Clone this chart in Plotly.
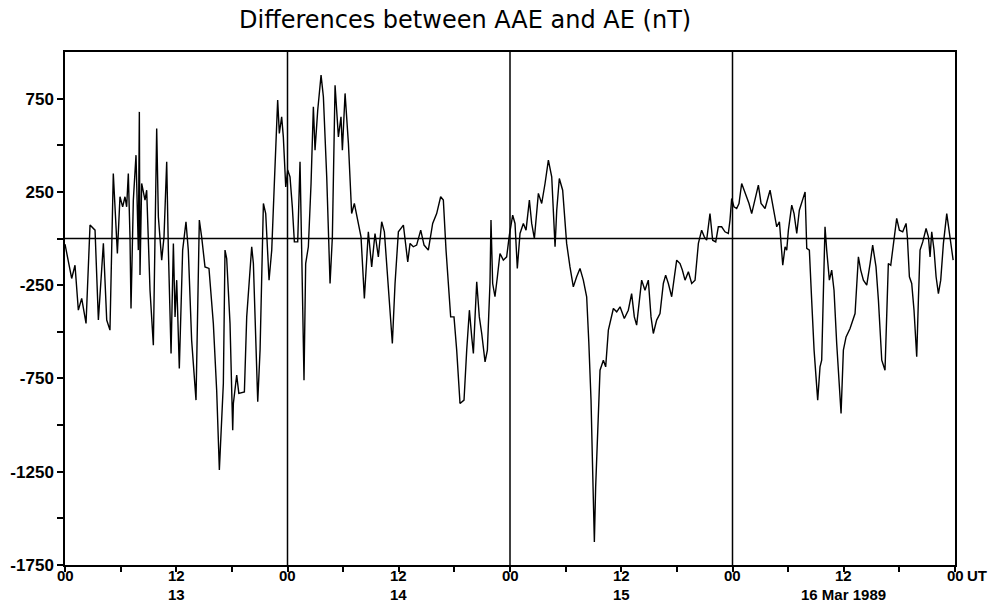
import plotly.graph_objects as go

# Time in hours from 00 UT, 13 Mar 1989
hours = [
    0.0, 0.36, 0.72, 1.08, 1.44, 1.80, 2.27, 2.70, 3.24, 3.60, 3.78, 4.14, 4.50, 4.85,
    5.21, 5.39, 5.65, 5.93, 6.22, 6.47, 6.65, 6.83, 7.01, 7.12, 7.37, 7.66, 7.91, 8.02,
    8.09, 8.27, 8.63, 8.81, 9.17, 9.53, 9.71, 9.89, 10.07, 10.43, 10.68, 10.97, 11.15,
    11.44, 11.69, 11.87, 12.05, 12.33, 12.69, 13.05, 13.30, 13.66, 14.13, 14.49, 14.74,
    15.10, 15.53, 16.00, 16.36, 16.65, 17.08, 17.26, 17.44, 17.80, 18.09, 18.16, 18.52,
    18.75, 19.35, 19.60, 20.14, 20.32, 20.79, 21.04, 21.40, 21.65, 22.01, 22.30, 22.58,
    22.94, 23.12, 23.37, 23.55, 23.81, 24.02, 24.27, 24.52, 24.74, 25.10, 25.35, 25.53,
    25.78, 25.96, 26.25, 26.54, 26.79, 26.97, 27.26, 27.62, 27.87, 28.23, 28.59, 28.84,
    29.13, 29.49, 29.77, 29.92, 30.21, 30.57, 30.92, 31.21, 31.57, 31.93, 32.29, 32.72,
    33.08, 33.44, 33.80, 34.16, 34.45, 34.88, 35.31, 35.60, 35.96, 36.50, 36.97, 37.22,
    37.57, 37.93, 38.37, 38.73, 39.19, 39.66, 40.09, 40.52, 40.81, 41.10, 41.35, 41.60,
    41.96, 42.25, 42.61, 43.04, 43.33, 43.62, 43.87, 44.05, 44.23, 44.41, 44.69, 44.95,
    45.31, 45.56, 45.84, 45.95, 46.13, 46.38, 46.64, 46.92, 47.28, 47.64, 47.93, 48.29,
    48.54, 48.79, 49.08, 49.44, 49.73, 50.09, 50.34, 50.63, 51.06, 51.42, 51.78, 52.14,
    52.50, 52.86, 53.04, 53.32, 53.68, 54.11, 54.47, 54.83, 55.19, 55.55, 55.91, 56.27,
    56.50, 56.74, 56.88, 57.10, 57.24, 57.46, 57.71, 58.07, 58.32, 58.61, 59.15, 59.51,
    59.87, 60.33, 60.76, 61.12, 61.41, 61.66, 61.91, 62.20, 62.56, 62.92, 63.21, 63.46,
    63.82, 64.18, 64.54, 64.79, 65.08, 65.44, 65.73, 65.98, 66.34, 66.59, 66.88, 67.24,
    67.60, 67.96, 68.32, 68.67, 68.96, 69.21, 69.57, 69.86, 70.19, 70.47, 70.83, 71.19,
    71.55, 71.73, 71.91, 72.16, 72.45, 72.70, 72.99, 73.28, 73.53, 73.78, 74.07, 74.43,
    74.79, 75.08, 75.51, 76.05, 76.41, 76.77, 77.06, 77.20, 77.42, 77.67, 77.85, 78.03,
    78.39, 78.64, 78.93, 79.21, 79.47, 79.83, 80.01, 80.29, 80.54, 80.80, 81.19, 81.44,
    81.62, 81.80, 81.98, 82.16, 82.45, 82.70, 82.95, 83.24, 83.71, 83.96, 84.25, 84.68,
    85.22, 85.58, 85.83, 86.12, 86.48, 86.84, 87.12, 87.48, 87.74, 88.10, 88.45, 88.63,
    88.81, 89.07, 89.35, 89.71, 90.00, 90.36, 90.72, 90.86, 91.08, 91.33, 91.58, 91.87,
    92.05, 92.23, 92.52, 92.88, 93.13, 93.31, 93.49, 93.74, 93.96, 94.21, 94.46, 94.75,
    95.11, 95.47, 95.80,
]

# AAE - AE difference (nT)
diff_nT = [
    -30, -116, -214, -143, -384, -321, -455, 72, 45, -437, -295, -26, -437, -491,
    349, 152, -80, 224, 170, 224, 170, 349, 9, -375, 206, 447, -62, 679,
    -196, 295, 206, 259, -277, -572, 117, 590, 117, -116, 9, 411, -62,
    -616, -26, -420, -223, -697, -62, 90, -62, -545, -866, 99, 9,
    -152, -160, -455, -813, -1240, -777, -62, -107, -455, -1027, -884, -732,
    -830, -822, -420, -44, -134, -875, -598, 188, 134, -223, -62, 295,
    742, 563, 653, 545, 277, 367, 331, 170, -18, -18, 411, -62,
    -759, -134, -44, 295, 706, 474, 688, 876, 760, 331, -241, 9,
    822, 545, 653, 474, 778, 510, 134, 188, 99, 9, -321, 36,
    -152, 27, -98, 90, 36, -241, -563, -241, 36, 72, -125, -26,
    -44, -35, 45, -35, -62, 81, 134, 224, 206, -62, -241, -420,
    -420, -598, -884, -866, -598, -384, -527, -616, -420, -232, -420, -509,
    -661, -598, -241, 99, -241, -312, -205, -80, -116, -98, 18, 125,
    81, -160, 27, 81, 45, 206, 81, 0, 242, 188, 295, 420,
    331, -44, 152, 322, 259, -26, -152, -259, -205, -160, -223, -312,
    -555, -866, -1170, -1626, -1331, -1027, -706, -652, -688, -491, -375, -393,
    -366, -429, -384, -295, -420, -464, -348, -223, -277, -223, -420, -509,
    -437, -402, -241, -196, -241, -312, -205, -116, -134, -169, -223, -178,
    -241, -223, -26, 45, 9, -9, 134, -9, -18, 63, 63, 36,
    27, 99, 215, 170, 161, 188, 295, 259, 224, 188, 134, 206,
    286, 188, 161, 259, 152, 63, 90, 9, -143, -44, -62, 45,
    179, 134, 27, 152, 197, 250, -53, -62, -330, -598, -866, -688,
    -652, -241, 63, -62, -223, -169, -277, -563, -938, -598, -527, -482,
    -402, -98, -169, -223, -250, -134, -35, -152, -330, -652, -706, -420,
    -134, -143, -26, 108, 45, 36, 81, 9, -205, -241, -384, -634,
    -330, -62, -18, 54, 9, -98, 36, -62, -205, -295, -223, -26,
    134, 9, -116,
]

day_bounds = [24, 48, 72]
x_tick_vals = list(range(0, 97, 6))
hour_label_pos = list(range(0, 97, 12))
hour_labels = ["00", "12", "00", "12", "00", "12", "00", "12", "00"]
day_label_pos = [12, 36, 60, 84]
day_labels = ["13", "14", "15", "16 Mar 1989"]
y_tick_vals = list(range(-1750, 1000, 250))
y_tick_text = ["-1750", "", "-1250", "", "-750", "", "-250", "", "250", "", "750"]

fig = go.Figure()
fig.add_trace(go.Scatter(x=hours, y=diff_nT, mode="lines",
                         line=dict(color="black", width=1.4), showlegend=False,
                         hoverinfo="skip"))

shapes = []
for d in day_bounds:
    shapes.append(dict(type="line", xref="x", yref="paper", x0=d, x1=d, y0=0, y1=1,
                       line=dict(color="black", width=1.5)))
shapes.append(dict(type="line", xref="paper", yref="y", x0=0, x1=1, y0=0, y1=0,
                   line=dict(color="black", width=1.5)))

y_tick_font = dict(family="Liberation Sans", size=17, color="black", weight="bold")
x_lab_font = dict(family="Liberation Sans", size=15, color="black", weight="bold")

annotations = [
    dict(text="Differences between AAE and AE (nT)", xref="paper", yref="paper",
         x=(465 - 65) / 890, y=1, yshift=32, xanchor="center", yanchor="middle",
         showarrow=False, font=dict(family="DejaVu Sans", size=24, color="black")),
]
for pos, lab in zip(hour_label_pos, hour_labels):
    annotations.append(dict(text=lab, xref="x", yref="paper", x=pos, y=0,
                            xanchor="center", yanchor="top", yshift=-1, borderpad=0,
                            showarrow=False, font=x_lab_font))
for pos, lab in zip(day_label_pos, day_labels):
    annotations.append(dict(text=lab, xref="x", yref="paper", x=pos, y=0,
                            xanchor="center", yanchor="top", yshift=-20, borderpad=0,
                            showarrow=False, font=x_lab_font))
annotations.append(dict(text="UT", xref="x", yref="paper", x=96, y=0,
                        xanchor="left", yanchor="top", xshift=11, yshift=-1, borderpad=0,
                        showarrow=False, font=x_lab_font))

fig.update_layout(
    width=992, height=605,
    margin=dict(l=65, r=37, t=52, b=40),
    paper_bgcolor="white", plot_bgcolor="white",
    shapes=shapes,
    annotations=annotations,
    xaxis=dict(range=[0, 96], tickmode="array", tickvals=x_tick_vals,
               showticklabels=False,
               ticks="outside", ticklen=5, tickwidth=1.5, tickcolor="black",
               showline=True, linecolor="black", linewidth=1.5, mirror=True,
               showgrid=False, zeroline=False, automargin=False),
    yaxis=dict(range=[-1750, 1000], tickmode="array", tickvals=y_tick_vals, ticktext=y_tick_text,
               ticks="outside", ticklen=6, tickwidth=1.5, tickcolor="black",
               showline=True, linecolor="black", linewidth=1.5, mirror=True,
               showgrid=False, zeroline=False, tickfont=y_tick_font, automargin=False),
)

fig.write_html("out.html")
